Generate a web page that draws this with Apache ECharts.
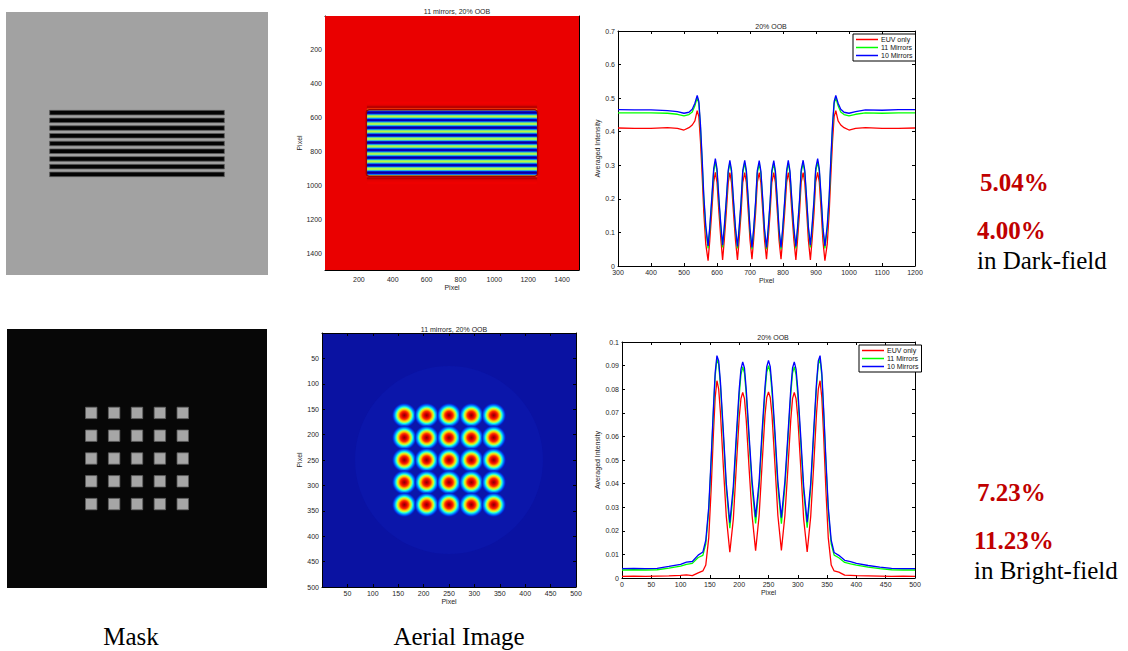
<!DOCTYPE html>
<html><head><meta charset="utf-8">
<script src="https://cdn.jsdelivr.net/npm/echarts@6/dist/echarts.min.js"></script>
<style>html,body{margin:0;padding:0;background:#fff}#c{width:1128px;height:651px}</style>
</head><body><div id="c"></div><script>
// ===== DATA =====
const seriesNames = ['EUV only', '11 Mirrors', '10 Mirrors'];
const seriesColors = ['#ff0000', '#00ff00', '#0000ff'];

// Dark-field line/space profile (top right), x = Pixel
const topPixel = [300,350,400,450,480,500,515,525,533,540,545,550,555,560,566,
 573,578,584,590,595,600,606,612,
 617,622,628,634,639,644,650,656,
 662,667,673,678,684,689,695,700,
 706,711,717,722,728,733,739,744,
 750,755,761,766,772,777,783,788,
 794,799,805,811,816,821,827,833,
 839,844,850,855,861,866,872,877,
 883,888,894,899,905,910,916,921,
 927,934,940,945,950,955,960,967,975,985,1000,1020,1050,1100,1150,1200];
const topEUV = [0.411,0.410,0.410,0.412,0.410,0.405,0.412,0.420,0.432,0.463,0.445,0.370,0.270,0.160,0.065,
 0.016,0.075,0.160,0.250,0.279,0.250,0.158,0.076,
 0.018,0.076,0.158,0.248,0.278,0.248,0.158,0.077,
 0.018,0.077,0.158,0.248,0.278,0.248,0.158,0.078,
 0.020,0.078,0.159,0.248,0.278,0.248,0.159,0.078,
 0.020,0.078,0.159,0.248,0.278,0.248,0.159,0.078,
 0.020,0.078,0.158,0.248,0.278,0.248,0.158,0.077,
 0.018,0.077,0.158,0.248,0.278,0.248,0.158,0.076,
 0.018,0.076,0.158,0.250,0.279,0.250,0.160,0.075,
 0.016,0.065,0.160,0.270,0.370,0.445,0.463,0.432,0.420,0.412,0.405,0.410,0.412,0.410,0.410,0.411];
const top11 = [0.456,0.456,0.456,0.455,0.452,0.447,0.451,0.459,0.477,0.502,0.484,0.410,0.310,0.200,0.110,
 0.052,0.108,0.192,0.281,0.310,0.281,0.190,0.110,
 0.055,0.109,0.189,0.278,0.307,0.278,0.188,0.107,
 0.052,0.106,0.187,0.277,0.307,0.277,0.187,0.105,
 0.050,0.104,0.186,0.276,0.306,0.276,0.186,0.104,
 0.050,0.104,0.186,0.276,0.306,0.276,0.186,0.104,
 0.050,0.105,0.187,0.277,0.307,0.277,0.187,0.106,
 0.052,0.107,0.188,0.278,0.307,0.278,0.189,0.109,
 0.055,0.110,0.190,0.281,0.310,0.281,0.192,0.108,
 0.052,0.110,0.200,0.310,0.410,0.484,0.502,0.477,0.459,0.451,0.447,0.452,0.456,0.455,0.456,0.456];
const top10 = [0.466,0.465,0.465,0.463,0.460,0.455,0.458,0.467,0.485,0.508,0.490,0.420,0.320,0.210,0.120,
 0.060,0.115,0.200,0.290,0.320,0.290,0.198,0.118,
 0.062,0.116,0.196,0.285,0.315,0.286,0.196,0.114,
 0.058,0.112,0.194,0.284,0.315,0.285,0.194,0.111,
 0.055,0.110,0.193,0.283,0.314,0.283,0.193,0.110,
 0.055,0.110,0.193,0.283,0.314,0.283,0.193,0.110,
 0.055,0.111,0.194,0.285,0.315,0.284,0.194,0.112,
 0.058,0.114,0.196,0.286,0.315,0.285,0.196,0.116,
 0.062,0.118,0.198,0.290,0.320,0.290,0.200,0.115,
 0.060,0.120,0.210,0.320,0.420,0.490,0.508,0.485,0.467,0.458,0.455,0.460,0.465,0.464,0.466,0.466];

// Bright-field contact-hole profile (bottom right)
const botPixel = [0,20,40,60,80,100,110,120,130,138,143,148,152,156,159,162,165,168,173,178,
 184,190,195,200,203,206,209,212,217,222,228,234,239,244,247,250,253,256,261,266,
 272,278,283,288,291,294,297,300,305,310,316,322,327,332,335,338,341,344,348,352,
 357,362,370,380,390,400,420,440,460,480,500];
const botEUV = [0.0007,0.0008,0.0007,0.0008,0.0009,0.0011,0.0013,0.0010,0.0022,0.0030,0.0055,0.0170,0.0370,0.0610,0.0765,0.0836,0.0800,0.0700,0.0470,0.0260,
 0.0109,0.0250,0.0470,0.0680,0.0760,0.0786,0.0760,0.0670,0.0460,0.0265,0.0116,0.0265,0.0480,0.0690,0.0765,0.0788,0.0765,0.0690,0.0480,0.0265,
 0.0117,0.0265,0.0460,0.0670,0.0760,0.0786,0.0760,0.0680,0.0470,0.0250,0.0110,0.0260,0.0470,0.0700,0.0800,0.0836,0.0765,0.0610,0.0370,0.0170,
 0.0055,0.0030,0.0025,0.0012,0.0011,0.0010,0.0009,0.0008,0.0007,0.0008,0.0007];
const bot11 = [0.0034,0.0035,0.0034,0.0035,0.0042,0.0050,0.0058,0.0062,0.0087,0.0096,0.0145,0.0285,0.0485,0.0705,0.0855,0.0928,0.0905,0.0815,0.0600,0.0380,
 0.0211,0.0365,0.0575,0.0775,0.0862,0.0895,0.0868,0.0778,0.0580,0.0385,0.0231,0.0385,0.0595,0.0785,0.0872,0.0900,0.0872,0.0785,0.0595,0.0385,
 0.0230,0.0385,0.0580,0.0778,0.0868,0.0895,0.0862,0.0775,0.0575,0.0365,0.0213,0.0380,0.0600,0.0815,0.0905,0.0928,0.0855,0.0705,0.0485,0.0285,
 0.0145,0.0097,0.0086,0.0066,0.0060,0.0055,0.0046,0.0040,0.0035,0.0034,0.0034];
const bot10 = [0.0040,0.0041,0.0040,0.0041,0.0049,0.0058,0.0067,0.0070,0.0097,0.0110,0.0160,0.0300,0.0500,0.0720,0.0870,0.0942,0.0920,0.0830,0.0620,0.0400,
 0.0234,0.0390,0.0600,0.0800,0.0885,0.0916,0.0890,0.0800,0.0600,0.0410,0.0258,0.0410,0.0620,0.0810,0.0895,0.0922,0.0895,0.0810,0.0620,0.0410,
 0.0256,0.0410,0.0600,0.0800,0.0890,0.0916,0.0885,0.0800,0.0600,0.0390,0.0236,0.0400,0.0620,0.0830,0.0920,0.0942,0.0870,0.0720,0.0500,0.0300,
 0.0160,0.0108,0.0096,0.0075,0.0069,0.0062,0.0053,0.0046,0.0041,0.0040,0.0040];

// Mask geometry (pixel units)
const maskLineCenters = [574,618,662,706,750,794,838,882,926];
const maskLineExtent = [250,1250];
const holeCenters = [162,206,250,294,338];

// Annotation texts
const darkNumbers = ['5.04%', '4.00%'];
const brightNumbers = ['7.23%', '11.23%'];
const panelTitles = ['11 mirrors, 20% OOB', '20% OOB'];
const captions = ['Mask', 'Aerial Image', 'in Dark-field', 'in Bright-field'];

// ===== CHART =====
// jet-like colour scale stretched so the intensity range 0..0.51 renders like the reference image
const heatColors = ['#000060','#000080','#00009a','#0000c8','#0010ff','#0060ff','#00b0ff','#00f0ff',
  '#40ffc0','#a0ff60','#e0ff20','#ffe000','#ff9000','#ff4000','#f40000','#d40000','#900000'];
const chart = echarts.init(document.getElementById('c'), null, {renderer: 'svg'});

const grid = [
  {left: 6, top: 12, width: 262, height: 263, show: true, backgroundColor: '#a2a2a2', borderWidth: 0},  // 0 mask top
  {left: 7, top: 329, width: 260, height: 259, show: true, backgroundColor: '#070707', borderWidth: 0}, // 1 mask bottom
  {left: 325, top: 16, width: 254, height: 254},   // 2 aerial top
  {left: 322, top: 333, width: 254, height: 254, show: true, backgroundColor: '#0a12a2', borderWidth: 0}, // 3 aerial bottom
  {left: 618, top: 31, width: 297, height: 235},   // 4 profile top
  {left: 622, top: 342, width: 293, height: 236}   // 5 profile bottom
];

const xAxis = [], yAxis = [];
const lbl = {fontSize: 7, color: '#262626', fontFamily: 'Liberation Sans'};
const plain = v => String(Math.round(v * 1000) / 1000);
function hiddenAxes(g, max) {
  xAxis.push({gridIndex: g, type: 'value', min: 0, max: max, show: false});
  yAxis.push({gridIndex: g, type: 'value', min: 0, max: max, inverse: true, show: false});
  return [xAxis.length - 1, yAxis.length - 1];
}
function boxAxes(g, xr, yr, o) {
  const line = {show: true, onZero: false, lineStyle: {color: '#000', width: 1}};
  const tick = {show: true, inside: true, length: 3, lineStyle: {color: '#000', width: 1}};
  const xi = xAxis.length, yi = yAxis.length;
  xAxis.push({gridIndex: g, type: 'value', position: 'bottom', min: xr[0], max: xr[1], interval: xr[2],
    axisLine: line, axisTick: tick, splitLine: {show: false},
    axisLabel: Object.assign({margin: o.xm, showMinLabel: o.xMin, showMaxLabel: o.xMax, formatter: plain}, lbl),
    name: 'Pixel', nameLocation: 'middle', nameGap: o.xGap, nameTextStyle: lbl});
  xAxis.push({gridIndex: g, type: 'value', position: 'top', min: xr[0], max: xr[1], interval: xr[2],
    axisLine: line, axisTick: tick, splitLine: {show: false}, axisLabel: {show: false}});
  yAxis.push({gridIndex: g, type: 'value', position: 'left', min: yr[0], max: yr[1], interval: yr[2], inverse: !!o.inv,
    axisLine: line, axisTick: tick, splitLine: {show: false},
    axisLabel: Object.assign({margin: 3, showMinLabel: o.yMin, showMaxLabel: o.yMax, formatter: plain}, lbl),
    name: o.yName, nameLocation: 'middle', nameGap: o.yGap, nameTextStyle: lbl});
  yAxis.push({gridIndex: g, type: 'value', position: 'right', min: yr[0], max: yr[1], interval: yr[2], inverse: !!o.inv,
    axisLine: line, axisTick: tick, splitLine: {show: false}, axisLabel: {show: false}});
  return [xi, yi];
}

const mTop = hiddenAxes(0, 1500);
const mBot = hiddenAxes(1, 500);
const aTop = boxAxes(2, [0, 1500, 200], [0, 1500, 200], {xm: 6, xGap: 13, yGap: 20, yName: 'Pixel', inv: true, xMin: false, xMax: false, yMin: false, yMax: false});
const aBot = boxAxes(3, [0, 500, 50], [0, 500, 50], {xm: 3, xGap: 11, yGap: 17, yName: 'Pixel', inv: true, xMin: false, xMax: true, yMin: false, yMax: true});
const pTop = boxAxes(4, [300, 1200, 100], [0, 0.7, 0.1], {xm: 3, xGap: 10, yGap: 15, yName: 'Averaged Intensity', xMin: true, xMax: true, yMin: true, yMax: true});
const pBot = boxAxes(5, [0, 500, 50], [0, 0.1, 0.01], {xm: 3, xGap: 11, yGap: 18, yName: 'Averaged Intensity', xMin: true, xMax: true, yMin: true, yMax: true});

const series = [];
function rectFrom(api, x0, y0, x1, y1) {
  const a = api.coord([x0, y0]), b = api.coord([x1, y1]);
  return {x: Math.min(a[0], b[0]), y: Math.min(a[1], b[1]), width: Math.abs(b[0] - a[0]), height: Math.abs(b[1] - a[1])};
}

// Mask top: dark lines on grey
series.push({type: 'custom', xAxisIndex: mTop[0], yAxisIndex: mTop[1], silent: true,
  data: maskLineCenters.map(c => [maskLineExtent[0], maskLineExtent[1], c]),
  encode: {x: [0, 1], y: 2},
  renderItem: (p, api) => ({type: 'rect', shape: rectFrom(api, api.value(0), api.value(2) - 13, api.value(1), api.value(2) + 13),
    style: {fill: '#030303', stroke: '#5c5c5c', lineWidth: 0.8}})});

// Mask bottom: grey holes on black
const holes = [];
holeCenters.forEach(y => holeCenters.forEach(x => holes.push([x, y])));
series.push({type: 'custom', xAxisIndex: mBot[0], yAxisIndex: mBot[1], silent: true, data: holes,
  renderItem: (p, api) => ({type: 'rect', shape: rectFrom(api, api.value(0) - 11, api.value(1) - 11, api.value(0) + 11, api.value(1) + 11),
    style: {fill: '#a6a6a6', stroke: '#5e5e5e', lineWidth: 0.8}})});

// Aerial top: background + rows coloured by the 11-mirror profile
const heatRows = [[0, 1500, 0, 1500, top11[0]]];
for (let i = 0; i < topPixel.length; i++) {
  if (topPixel[i] < 515 || topPixel[i] > 985) continue;
  const y0 = (topPixel[i - 1] + topPixel[i]) / 2;
  const y1 = (topPixel[i] + topPixel[i + 1]) / 2;
  heatRows.push([maskLineExtent[0], maskLineExtent[1], y0, y1, top11[i]]);
}
const heatIndex = series.length;
series.push({type: 'custom', xAxisIndex: aTop[0], yAxisIndex: aTop[1], silent: true, clip: true, data: heatRows,
  encode: {x: [0, 1], y: [2, 3]},
  renderItem: (p, api) => {
    const c = api.visual('color');
    return {type: 'rect', shape: rectFrom(api, api.value(0), api.value(2), api.value(1), api.value(3)),
      style: {fill: c, stroke: c, lineWidth: 0.6}};
  }});
// dark-red rim around the ends of the line block
series.push({type: 'custom', xAxisIndex: aTop[0], yAxisIndex: aTop[1], silent: true, clip: true,
  data: [[maskLineExtent[0], maskLineExtent[1], maskLineCenters[0], maskLineCenters[maskLineCenters.length - 1]]],
  encode: {x: [0, 1], y: [2, 3]},
  renderItem: (p, api) => {
    const s = rectFrom(api, api.value(0) - 6, api.value(2) - 20, api.value(1) + 6, api.value(3) + 20);
    s.r = 3;
    return {type: 'rect', shape: s, style: {fill: 'none', stroke: '#a00000', lineWidth: 1.4}};
  }});

// Aerial bottom: faint halo + 5x5 spots
series.push({type: 'custom', xAxisIndex: aBot[0], yAxisIndex: aBot[1], silent: true, clip: true, data: [[holeCenters[2], holeCenters[2]]],
  renderItem: (p, api) => {
    const c = api.coord([api.value(0), api.value(1)]);
    const r = api.size([185, 185])[0];
    return {type: 'circle', shape: {cx: c[0], cy: c[1], r: r}, style: {fill: '#0b16aa'}};
  }});
series.push({type: 'custom', xAxisIndex: aBot[0], yAxisIndex: aBot[1], silent: true, clip: true, data: holes,
  renderItem: (p, api) => {
    const c = api.coord([api.value(0), api.value(1)]);
    const r = api.size([25, 25])[0];
    return {type: 'circle', shape: {cx: c[0], cy: c[1], r: r}, style: {fill: new echarts.graphic.RadialGradient(0.5, 0.5, 0.5, [
      {offset: 0, color: '#8a0000'}, {offset: 0.18, color: '#d80000'}, {offset: 0.32, color: '#ff3000'},
      {offset: 0.45, color: '#ffc000'}, {offset: 0.55, color: '#c0ff40'}, {offset: 0.65, color: '#20ffe0'},
      {offset: 0.76, color: '#0090ff'}, {offset: 0.88, color: '#0030e0'}, {offset: 1, color: 'rgba(11,22,170,0)'}])}};
  }});

// Profiles
function addLines(ax, xs, arrs) {
  arrs.forEach((arr, k) => series.push({type: 'line', name: seriesNames[k], xAxisIndex: ax[0], yAxisIndex: ax[1],
    data: xs.map((x, i) => [x, arr[i]]), showSymbol: false, symbol: 'none', color: seriesColors[k],
    lineStyle: {width: 1.3, color: seriesColors[k]}, z: 2 + k, silent: true}));
}
addLines(pTop, topPixel, [topEUV, top11, top10]);
addLines(pBot, botPixel, [botEUV, bot11, bot10]);

const legendBase = {data: seriesNames, orient: 'vertical', selectedMode: false, icon: 'rect', itemWidth: 22, itemHeight: 1.5,
  itemGap: 1, padding: [2, 3, 2, 3], borderColor: '#000', borderWidth: 1, backgroundColor: '#fff',
  textStyle: {fontSize: 7, color: '#111', fontFamily: 'Liberation Sans', padding: [0, 0, 0, -2]}};

const serif = 'Liberation Serif';
const txt = (t, x, y, opt) => ({type: 'text', x: x, y: y, style: Object.assign({text: t, fill: '#000',
  fontFamily: serif, fontSize: 25, align: 'left', verticalAlign: 'middle'}, opt || {})});
const tStyle = {fontSize: 7, fontWeight: 'normal', color: '#262626', fontFamily: 'Liberation Sans'};

chart.setOption({
  animation: false,
  grid: grid, xAxis: xAxis, yAxis: yAxis,
  visualMap: {type: 'continuous', show: false, seriesIndex: heatIndex, dimension: 4, min: 0, max: 0.51, inRange: {color: heatColors}},
  title: [
    {text: panelTitles[0], left: 452, top: 3, textAlign: 'center', textStyle: tStyle},
    {text: panelTitles[1], left: 766, top: 18, textAlign: 'center', textStyle: tStyle},
    {text: panelTitles[0], left: 449, top: 321, textAlign: 'center', textStyle: tStyle},
    {text: panelTitles[1], left: 768, top: 329, textAlign: 'center', textStyle: tStyle}
  ],
  legend: [Object.assign({left: 853, top: 34}, legendBase), Object.assign({left: 859, top: 345}, legendBase)],
  graphic: [
    txt(darkNumbers[0], 980, 182, {fill: '#c00000', fontWeight: 'bold'}),
    txt(darkNumbers[1], 977, 230, {fill: '#c00000', fontWeight: 'bold'}),
    txt(captions[2], 977, 260),
    txt(brightNumbers[0], 977, 492, {fill: '#c00000', fontWeight: 'bold'}),
    txt(brightNumbers[1], 974, 540, {fill: '#c00000', fontWeight: 'bold'}),
    txt(captions[3], 974, 570),
    txt(captions[0], 131, 636, {align: 'center'}),
    txt(captions[1], 459, 636, {align: 'center'})
  ],
  series: series
});
</script></body></html>
